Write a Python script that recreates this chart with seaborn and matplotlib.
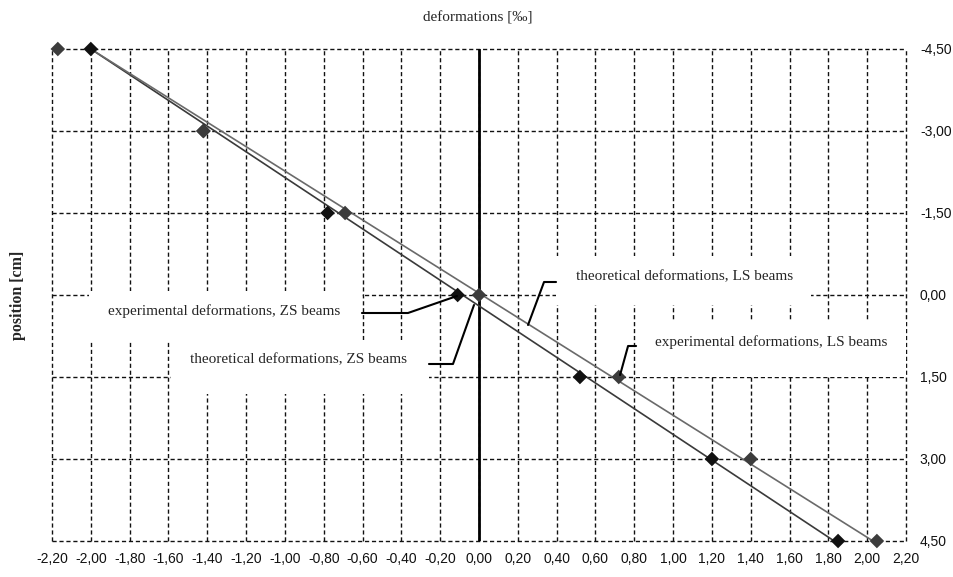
import matplotlib
matplotlib.use("Agg")
import matplotlib.pyplot as plt
import seaborn as sns
import pandas as pd
import numpy as np
from matplotlib.patches import Rectangle
from matplotlib.ticker import FuncFormatter, MultipleLocator

# ---- data ----
positions = [-4.5, -3.0, -1.5, 0.0, 1.5, 3.0, 4.5]
exp_zs = [-2.00, -1.42, -0.78, -0.11, 0.52, 1.20, 1.85]
exp_ls = [-2.17, -1.42, -0.69, 0.00, 0.72, 1.40, 2.05]
theo_pos = [-4.5, 4.5]
theo_zs = [-2.00, 1.83]
theo_ls = [-2.00, 2.03]
x_ticks = [round(-2.2 + 0.2 * i, 2) for i in range(23)]
y_ticks = [-4.5, -3.0, -1.5, 0.0, 1.5, 3.0, 4.5]

sns.set_style("white")
plt.rcParams['font.family'] = ['Liberation Serif', 'DejaVu Serif']

fig = plt.figure(figsize=(9.54, 5.77), dpi=100)
ax = fig.add_axes([52/954, 1-541/577, (906-52)/954, (541-49)/577])

df_exp = pd.DataFrame({
    "x": exp_zs + exp_ls,
    "y": positions + positions,
    "s": ["ZS"] * len(exp_zs) + ["LS"] * len(exp_ls),
})
df_theo = pd.DataFrame({
    "x": theo_zs + theo_ls,
    "y": theo_pos + theo_pos,
    "s": ["ZS", "ZS", "LS", "LS"],
})

ax.set_xlim(-2.2, 2.2)
ax.set_ylim(4.5, -4.5)

# grid
for xv in x_ticks:
    ax.axvline(xv, color="#111111", lw=1.0, ls=(0, (3, 2)), zorder=0, clip_on=False)
for yv in y_ticks:
    ax.axhline(yv, color="#111111", lw=1.0, ls=(0, (3, 2)), zorder=0, clip_on=False)

# white label boxes (covering grid)
def box(x0, y0, x1, y1):
    ax.add_patch(Rectangle((x0, y0), x1 - x0, y1 - y0, facecolor="white",
                           edgecolor="none", zorder=1))

px = lambda p: (p - 478) / 194.0
py = lambda p: (p - 295) * 1.5 / 82.0

box(px(88), py(291), px(361), py(342))
box(px(170), py(340), px(428), py(394))
box(px(555), py(256), px(810), py(305))
box(px(635), py(321), px(905), py(377))

ax.axvline(0, color="black", lw=2.0, zorder=2)

sns.lineplot(data=df_theo, x="x", y="y", hue="s", units="s", estimator=None,
             sort=False, palette={"ZS": "#3a3a3a", "LS": "#6a6a6a"},
             lw=1.2, legend=False, ax=ax, zorder=3)
sns.scatterplot(data=df_exp, x="x", y="y", hue="s", marker="D", s=55,
                palette={"ZS": "#111111", "LS": "#3c3c3c"}, edgecolor="none",
                legend=False, ax=ax, zorder=4, clip_on=False)

# leader lines
lc = dict(color="black", lw=1.5, zorder=5)
ax.plot([px(361), px(407), px(456)], [py(313), py(313), py(296)], **lc)
ax.plot([px(428), px(452), px(473)], [py(364), py(364), py(305)], **lc)
ax.plot([px(555), px(543), px(527)], [py(282), py(282), py(325)], **lc)
ax.plot([px(635), px(627), px(619)], [py(346), py(346), py(375)], **lc)

tk = dict(fontsize=11, ha="center", va="center", zorder=6)
ax.text(px(223), py(311), "experimental deformations, ZS beams", **tk)
ax.text(px(298), py(360), "theoretical deformations, ZS beams", **tk)
ax.text(px(683), py(277), "theoretical deformations, LS beams", **tk)
ax.text(px(770), py(342), "experimental deformations, LS beams", **tk)

# axes formatting
ax.set_xticks(x_ticks)
ax.set_yticks(y_ticks)
fmt = FuncFormatter(lambda v, p: f"{v:.2f}".replace(".", ",").replace("-0,00", "0,00"))
ax.xaxis.set_major_formatter(fmt)
ax.yaxis.set_major_formatter(fmt)
ax.yaxis.tick_right()
ax.tick_params(axis="both", length=0, labelsize=10, colors="#111111")
ax.tick_params(axis="x", pad=8)
ax.tick_params(axis="y", pad=10)
for lab in ax.get_xticklabels() + ax.get_yticklabels():
    lab.set_family(["Liberation Sans Narrow", "Liberation Sans", "DejaVu Sans"])
for sp in ax.spines.values():
    sp.set_visible(False)
ax.set_xlabel("")
ax.set_ylabel("")

fig.text(478/954, 1 - 18/577, "deformations [‰]", ha="center", va="center",
         fontsize=11)
fig.text(18/954, 1 - 295/577, "position [cm]", ha="center", va="center",
         rotation=90, fontsize=11.5, fontweight="bold")

fig.savefig("out.png", dpi=100, facecolor="white")
